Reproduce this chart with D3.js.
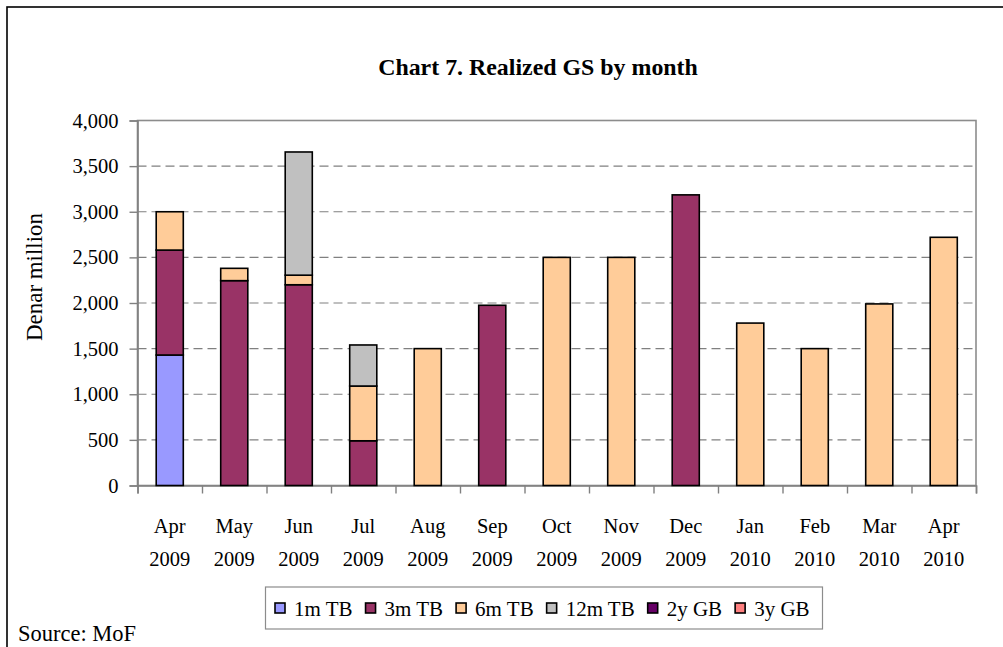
<!DOCTYPE html>
<html>
<head>
<meta charset="utf-8">
<script src="https://cdn.jsdelivr.net/npm/d3@7"></script>
<style>
  html, body { margin: 0; padding: 0; background: #fff; }
  svg { display: block; }
  text { font-family: "Liberation Serif", serif; fill: #000; }
</style>
</head>
<body>
<svg id="chart" width="1003" height="647"></svg>
<script>
// ---- data ----
const months = ["Apr", "May", "Jun", "Jul", "Aug", "Sep", "Oct", "Nov", "Dec", "Jan", "Feb", "Mar", "Apr"];
const years  = ["2009", "2009", "2009", "2009", "2009", "2009", "2009", "2009", "2009", "2010", "2010", "2010", "2010"];
const seriesNames = ["1m TB", "3m TB", "6m TB", "12m TB", "2y GB", "3y GB"];
const seriesColors = ["#9999FF", "#993366", "#FFCC99", "#C0C0C0", "#660066", "#FF8080"];
const tb1m  = [1430, 0, 0, 0, 0, 0, 0, 0, 0, 0, 0, 0, 0];
const tb3m  = [1150, 2245, 2200, 490, 0, 1975, 0, 0, 3185, 0, 0, 0, 0];
const tb6m  = [420, 135, 105, 600, 1500, 0, 2500, 2500, 0, 1780, 1500, 1990, 2720];
const tb12m = [0, 0, 1350, 450, 0, 0, 0, 0, 0, 0, 0, 0, 0];
const gb2y  = [0, 0, 0, 0, 0, 0, 0, 0, 0, 0, 0, 0, 0];
const gb3y  = [0, 0, 0, 0, 0, 0, 0, 0, 0, 0, 0, 0, 0];
const yTicks = [0, 500, 1000, 1500, 2000, 2500, 3000, 3500, 4000];
const title = "Chart 7. Realized GS by month";
const yLabel = "Denar million";
const source = "Source: MoF";

// ---- layout ----
const svg = d3.select("#chart");
const L = 137.5, R = 976, T = 120.5, B = 485.5;

const table = months.map((m, i) => ({
  idx: i, "1m TB": tb1m[i], "3m TB": tb3m[i], "6m TB": tb6m[i],
  "12m TB": tb12m[i], "2y GB": gb2y[i], "3y GB": gb3y[i]
}));

const x = d3.scaleBand().domain(d3.range(months.length)).range([L, R])
  .paddingInner(0.58).paddingOuter(0.29);
const xEdge = d3.scaleLinear().domain([0, months.length]).range([L, R]);
const y = d3.scaleLinear().domain([0, 4000]).range([B, T]);
const color = d3.scaleOrdinal().domain(seriesNames).range(seriesColors);

function fitText(sel, target) {
  const w = sel.node().getComputedTextLength();
  const fs = parseFloat(sel.attr("font-size"));
  sel.attr("font-size", fs * target / w);
}

// outer frame (left & top visible, right/bottom beyond view)
svg.append("rect").attr("x", 7).attr("y", 7).attr("width", 1010).attr("height", 660)
  .attr("fill", "none").attr("stroke", "#000").attr("stroke-width", 1.6);

// title
const tt = svg.append("text").attr("x", 538).attr("y", 75).attr("text-anchor", "middle")
  .attr("font-family", "DejaVu Serif Condensed, DejaVu Serif, serif")
  .attr("font-stretch", "condensed")
  .attr("font-size", 20).attr("font-weight", "bold").text(title);
fitText(tt, 320);

// gridlines
svg.append("g").selectAll("line").data(yTicks.filter(v => v > 0 && v < 4000)).join("line")
  .attr("x1", L).attr("x2", R).attr("y1", d => y(d)).attr("y2", d => y(d))
  .attr("stroke", "#808080").attr("stroke-width", 1.2).attr("stroke-dasharray", "9,5");

// plot border
svg.append("rect").attr("x", L).attr("y", T).attr("width", R - L).attr("height", B - T)
  .attr("fill", "none").attr("stroke", "#8c8c8c").attr("stroke-width", 1.6);

// y axis
const yAxis = svg.append("g").attr("transform", `translate(${L},0)`)
  .call(d3.axisLeft(y).tickValues(yTicks).tickSize(8).tickPadding(11)
    .tickFormat(d3.format(",")));
yAxis.select(".domain").attr("stroke", "#808080").attr("stroke-width", 1.6);
yAxis.selectAll(".tick line").attr("stroke", "#808080").attr("stroke-width", 1.4);
yAxis.selectAll(".tick text").attr("font-family", "Liberation Serif").attr("font-size", 20.5).attr("fill", "#000");

// x axis ticks at band edges
const xAxis = svg.append("g").attr("transform", `translate(0,${B})`)
  .call(d3.axisBottom(xEdge).tickValues(d3.range(months.length + 1)).tickSize(8).tickFormat(""));
xAxis.select(".domain").attr("stroke", "#808080").attr("stroke-width", 1.6);
xAxis.selectAll(".tick line").attr("stroke", "#808080").attr("stroke-width", 1.4);

// bars
const stack = d3.stack().keys(seriesNames)(table);
svg.append("g").selectAll("g").data(stack).join("g")
  .attr("fill", d => color(d.key))
  .selectAll("rect").data(d => d.filter(s => s[1] - s[0] > 0)).join("rect")
  .attr("x", d => x(d.data.idx)).attr("width", x.bandwidth())
  .attr("y", d => y(d[1])).attr("height", d => y(d[0]) - y(d[1]))
  .attr("stroke", "#000").attr("stroke-width", 1.6);

// category labels
const cat = svg.append("g").selectAll("text").data(months).join("text")
  .attr("text-anchor", "middle").attr("font-size", 20.5)
  .attr("x", (d, i) => x(i) + x.bandwidth() / 2);
cat.append("tspan").attr("x", (d, i) => x(i) + x.bandwidth() / 2).attr("y", 533).text(d => d);
cat.append("tspan").attr("x", (d, i) => x(i) + x.bandwidth() / 2).attr("y", 566).text((d, i) => years[i]);

// y label
const yl = svg.append("text").attr("transform", "translate(42,277) rotate(-90)")
  .attr("text-anchor", "middle").attr("font-size", 20).text(yLabel);
fitText(yl, 128);

// legend
const lg = svg.append("g");
lg.append("rect").attr("x", 265.5).attr("y", 587).attr("width", 557).attr("height", 42)
  .attr("fill", "#fff").attr("stroke", "#8c8c8c").attr("stroke-width", 1.2);
let lx = 275;
seriesNames.forEach((name, i) => {
  lg.append("rect").attr("x", lx).attr("y", 603).attr("width", 10).attr("height", 10)
    .attr("fill", color(name)).attr("stroke", "#000").attr("stroke-width", 1.6);
  const t = lg.append("text").attr("x", lx + 19).attr("y", 616).attr("font-size", 21).text(name);
  lx = lx + 19 + t.node().getComputedTextLength() + 13;
});

// source
const st = svg.append("text").attr("x", 18).attr("y", 641).attr("font-size", 20).text(source);
fitText(st, 118);
</script>
</body>
</html>
